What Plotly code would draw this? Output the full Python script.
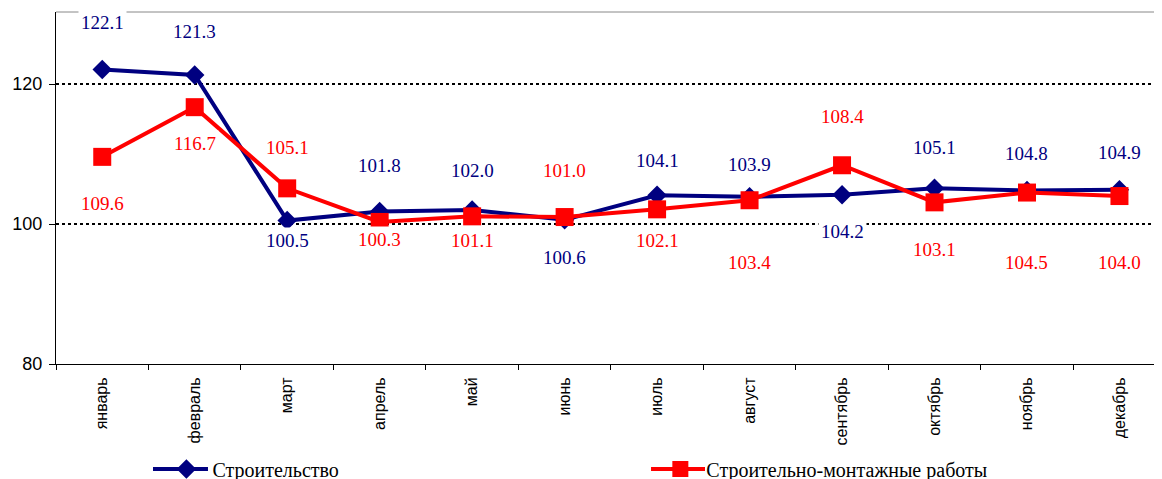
import plotly.graph_objects as go

months = ["январь", "февраль", "март", "апрель", "май", "июнь",
          "июль", "август", "сентябрь", "октябрь", "ноябрь", "декабрь"]
construction = [122.1, 121.3, 100.5, 101.8, 102.0, 100.6, 104.1, 103.9, 104.2, 105.1, 104.8, 104.9]
cm_works = [109.6, 116.7, 105.1, 100.3, 101.1, 101.0, 102.1, 103.4, 108.4, 103.1, 104.5, 104.0]
name_construction = "Строительство"
name_cm_works = "Строительно-монтажные работы"
y_ticks = [80, 100, 120]

# label vertical offsets in pixels (style only)
dy_construction = [47, 43, -20, 46, 40, -38, 35, 32, -37, 41, 37, 37]
dy_cm_works = [-47, -36, 41, -18, -24, 47, -31, -62, 49, -47, -70, -66]

BLUE = "#000080"
RED = "#FF0000"

fig = go.Figure()
fig.add_trace(go.Scatter(
    x=months, y=construction, name=name_construction, mode="lines+markers",
    line=dict(color=BLUE, width=4),
    marker=dict(symbol="diamond", size=15, color=BLUE),
    legend="legend",
))
fig.add_trace(go.Scatter(
    x=months, y=cm_works, name=name_cm_works, mode="lines+markers",
    line=dict(color=RED, width=4),
    marker=dict(symbol="square", size=18, color=RED),
    legend="legend2",
))

annotations = []
for vals, dys, col in [(construction, dy_construction, BLUE), (cm_works, dy_cm_works, RED)]:
    for m, v, dy in zip(months, vals, dys):
        annotations.append(dict(
            x=m, y=v, xref="x", yref="y", text=f"{v:.1f}", showarrow=False,
            yshift=dy, font=dict(family="Liberation Serif", size=19, color=col),
            bgcolor="white", borderpad=2,
        ))

LEG_Y = -0.2983
legend_font = dict(family="Liberation Serif, Times New Roman, serif", size=20, color="black")
fig.update_layout(
    width=1154, height=479,
    margin=dict(l=48, r=0, t=4, b=123, autoexpand=False),
    paper_bgcolor="white", plot_bgcolor="white",
    annotations=annotations,
    showlegend=True,
    legend=dict(x=0.0944, y=LEG_Y, xanchor="left", yanchor="middle",
                orientation="h", bgcolor="rgba(0,0,0,0)", itemwidth=42,
                font=legend_font),
    legend2=dict(x=0.541, y=LEG_Y, xanchor="left", yanchor="middle",
                 orientation="h", bgcolor="rgba(0,0,0,0)", itemwidth=42,
                 font=legend_font),
    xaxis=dict(
        type="category", range=[-0.5, 11.46], automargin=False,
        tickson="boundaries", ticks="outside", ticklen=5, tickcolor="black",
        showline=True, linecolor="black", linewidth=1,
        showgrid=False, tickangle=-90,
        tickfont=dict(family="Liberation Sans", size=16, color="black"),
        ticklabelstandoff=6,
    ),
    yaxis=dict(
        range=[80, 130.3], tickvals=y_ticks, ticks="outside", ticklen=6,
        automargin=False,
        tickcolor="black", showline=True, linecolor="black", linewidth=1,
        showgrid=True, gridcolor="black", griddash="dot", gridwidth=1.5,
        zeroline=False,
        tickfont=dict(family="Liberation Sans", size=18, color="black"),
        ticklabelstandoff=3,
    ),
    shapes=[
        dict(type="line", xref="paper", yref="paper", x0=0, x1=1, y0=1, y1=1,
             line=dict(color="#888888", width=1)),
        # longer legend key lines, as in the original
        dict(type="line", xref="paper", yref="paper", x0=0.0877, x1=0.1374,
             y0=LEG_Y, y1=LEG_Y, line=dict(color=BLUE, width=4)),
        dict(type="line", xref="paper", yref="paper", x0=0.538, x1=0.5868,
             y0=LEG_Y, y1=LEG_Y, line=dict(color=RED, width=4)),
    ],
)

fig.write_html("out.html")
